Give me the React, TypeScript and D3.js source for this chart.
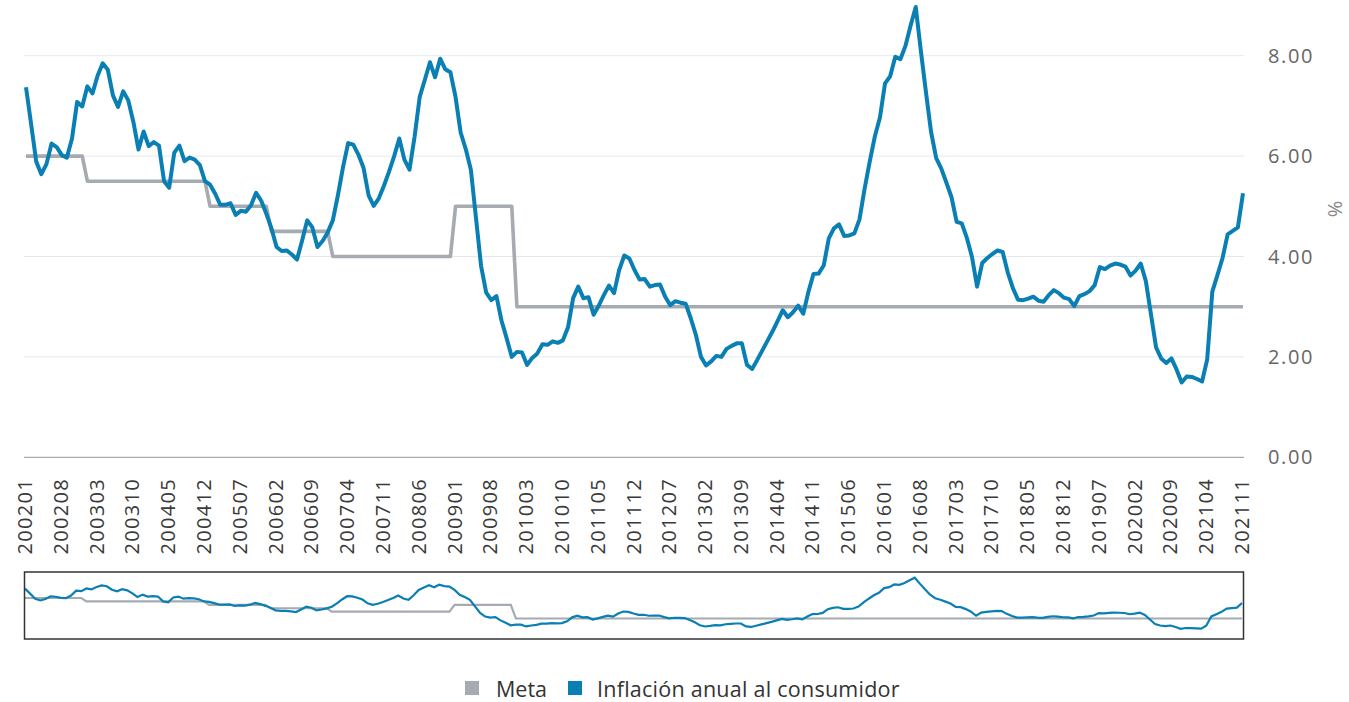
import React from 'react';
import * as d3 from 'd3';

const years = d3.range(2002, 2022);

// inflación anual al consumidor, % (2002-01 .. 2021-11)
const inf2002 = [7.37, 6.64, 5.89, 5.64, 5.84, 6.25, 6.18, 6.02, 5.97, 6.35, 7.08, 6.99];
const inf2003 = [7.39, 7.25, 7.6, 7.85, 7.72, 7.21, 6.98, 7.29, 7.11, 6.68, 6.13, 6.49];
const inf2004 = [6.2, 6.28, 6.21, 5.5, 5.37, 6.07, 6.21, 5.9, 5.97, 5.93, 5.82, 5.5];
const inf2005 = [5.43, 5.25, 5.03, 5.03, 5.06, 4.83, 4.91, 4.89, 5.02, 5.27, 5.11, 4.85];
const inf2006 = [4.56, 4.19, 4.11, 4.12, 4.04, 3.94, 4.32, 4.72, 4.58, 4.19, 4.31, 4.48];
const inf2007 = [4.72, 5.22, 5.78, 6.26, 6.23, 6.03, 5.77, 5.22, 5.01, 5.16, 5.41, 5.69];
const inf2008 = [6.0, 6.35, 5.93, 5.73, 6.39, 7.18, 7.52, 7.87, 7.57, 7.94, 7.73, 7.67];
const inf2009 = [7.18, 6.47, 6.14, 5.73, 4.77, 3.81, 3.28, 3.13, 3.21, 2.72, 2.37, 2.0];
const inf2010 = [2.1, 2.09, 1.84, 1.98, 2.07, 2.25, 2.24, 2.31, 2.28, 2.33, 2.59, 3.17];
const inf2011 = [3.4, 3.17, 3.19, 2.84, 3.02, 3.23, 3.42, 3.27, 3.73, 4.02, 3.96, 3.73];
const inf2012 = [3.54, 3.55, 3.4, 3.43, 3.44, 3.2, 3.03, 3.11, 3.08, 3.06, 2.77, 2.44];
const inf2013 = [2.0, 1.83, 1.91, 2.02, 2.0, 2.16, 2.22, 2.27, 2.27, 1.84, 1.76, 1.94];
const inf2014 = [2.13, 2.32, 2.51, 2.72, 2.93, 2.79, 2.89, 3.02, 2.86, 3.29, 3.65, 3.66];
const inf2015 = [3.82, 4.36, 4.56, 4.64, 4.41, 4.42, 4.46, 4.74, 5.35, 5.89, 6.39, 6.77];
const inf2016 = [7.45, 7.59, 7.98, 7.93, 8.2, 8.6, 8.97, 8.1, 7.27, 6.48, 5.96, 5.75];
const inf2017 = [5.47, 5.18, 4.69, 4.66, 4.37, 3.99, 3.4, 3.87, 3.97, 4.05, 4.12, 4.09];
const inf2018 = [3.68, 3.37, 3.14, 3.13, 3.16, 3.2, 3.12, 3.1, 3.23, 3.33, 3.27, 3.18];
const inf2019 = [3.15, 3.01, 3.21, 3.25, 3.31, 3.43, 3.79, 3.75, 3.82, 3.86, 3.84, 3.8];
const inf2020 = [3.62, 3.72, 3.86, 3.51, 2.85, 2.19, 1.97, 1.88, 1.97, 1.75, 1.49, 1.61];
const inf2021 = [1.6, 1.56, 1.51, 1.95, 3.3, 3.63, 3.97, 4.44, 4.51, 4.58, 5.26];

// meta de inflación por año
const metaByYear = [6, 5.5, 5.5, 5, 4.5, 4, 4, 5, 3, 3, 3, 3, 3, 3, 3, 3, 3, 3, 3, 3];

const yTicks = [0, 2, 4, 6, 8];

const inflation = [
  inf2002, inf2003, inf2004, inf2005, inf2006, inf2007, inf2008, inf2009, inf2010, inf2011,
  inf2012, inf2013, inf2014, inf2015, inf2016, inf2017, inf2018, inf2019, inf2020, inf2021,
];

const rows = inflation.flatMap((vals, yi) =>
  vals.map((v, mi) => ({
    month: `${years[yi]}${String(mi + 1).padStart(2, '0')}`,
    inf: v,
    meta: metaByYear[yi],
  }))
);
const months = rows.map((d) => d.month);
const xLabels = months.filter((_, i) => i % 7 === 0);

const BLUE = '#0a7fb3';
const GRAY = '#a5abb0';
const FONT = '"Open Sans", "Noto Sans", sans-serif';

export default function App() {
  const x = d3.scalePoint<string>().domain(months).range([26, 1243]);
  const y = d3.scaleLinear().domain([0, 8]).range([457.3, 55.7]);
  const xn = d3.scalePoint<string>().domain(months).range([25, 1242]);
  const yn = d3.scaleLinear().domain([0, 9.8]).range([639, 572]);

  const infLine = d3.line<any>().x((d) => x(d.month)!).y((d) => y(d.inf));
  const metaLine = d3.line<any>().x((d) => x(d.month)!).y((d) => y(d.meta));
  const infNav = d3.line<any>().x((d) => xn(d.month)!).y((d) => yn(d.inf));
  const metaNav = d3.line<any>().x((d) => xn(d.month)!).y((d) => yn(d.meta));

  return (
    <svg
      width={1349}
      height={702}
      style={{ position: 'absolute', left: 0, top: 0, background: '#fff' }}
      fontFamily={FONT}
    >
      {/* grid */}
      {yTicks.map((t) => (
        <line
          key={t}
          x1={24}
          x2={1244}
          y1={y(t)}
          y2={y(t)}
          stroke={t === 0 ? '#ababab' : '#e4e8ee'}
          strokeWidth={t === 0 ? 1.2 : 1}
        />
      ))}
      {yTicks.map((t) => (
        <text key={'l' + t} x={1268} y={y(t) + 7} fontSize={20} fill="#666" letterSpacing={1.6}>
          {d3.format('.2f')(t)}
        </text>
      ))}
      <text
        transform="translate(1328,209) rotate(90)"
        textAnchor="middle"
        fontSize={20}
        fill="#888"
      >
        %
      </text>

      {/* x labels */}
      {xLabels.map((m) => (
        <text
          key={m}
          transform={`translate(${x(m)! - 1},478) rotate(-90)`}
          textAnchor="end"
          dy="0.35em"
          fontSize={20}
          fill="#3a3a3a"
          letterSpacing={1.3}
        >
          {m}
        </text>
      ))}

      {/* series */}
      <path d={metaLine(rows)!} fill="none" stroke={GRAY} strokeWidth={3.6} strokeLinejoin="round" />
      <path d={infLine(rows)!} fill="none" stroke={BLUE} strokeWidth={4} strokeLinejoin="round" />

      {/* navigator */}
      <path d={metaNav(rows)!} fill="none" stroke={GRAY} strokeWidth={2.2} />
      <path d={infNav(rows)!} fill="none" stroke={BLUE} strokeWidth={2.2} />
      <rect x={24.5} y={572} width={1219} height={67} fill="none" stroke="#333" strokeWidth={1.5} />

      {/* legend */}
      <rect x={465} y={681} width={14} height={14} fill={GRAY} />
      <text x={496} y={697} fontSize={21.5} fill="#333">
        Meta
      </text>
      <rect x={568} y={681} width={14} height={14} fill={BLUE} />
      <text x={597} y={697} fontSize={21.5} fill="#333" letterSpacing={0.25}>
        Inflación anual al consumidor
      </text>
    </svg>
  );
}
